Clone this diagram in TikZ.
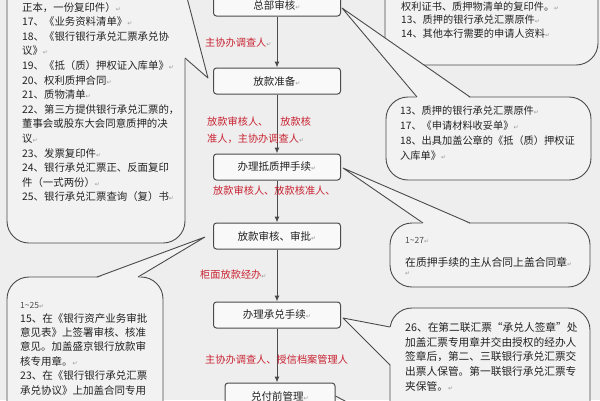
\documentclass[tikz,border=0pt]{standalone}
\usepackage{fontspec}
\setmainfont{Noto Sans CJK SC}
\newfontfamily\dejavu{DejaVu Sans}
\usetikzlibrary{arrows.meta,calc}
\definecolor{bgc}{RGB}{238,238,238}
\definecolor{cfill}{RGB}{242,242,242}
\definecolor{bfill}{RGB}{249,249,249}
\definecolor{linec}{RGB}{75,75,75}
\definecolor{redc}{RGB}{200,35,50}
\definecolor{txtc}{RGB}{35,35,35}
\newcommand\parmk{{\dejavu\fontsize{6}{6}\selectfont\textcolor{gray!80}{↵}}}
\begin{document}
\begin{tikzpicture}[x=1pt,y=-1pt,
  stepbox/.style={draw=linec,line width=1pt,fill=bfill,rounded corners=3pt,minimum width=127pt,minimum height=26pt,inner sep=0pt,font=\fontsize{10.5}{12}\selectfont,text=txtc},
  cbody/.style={draw=linec,line width=0.9pt,fill=cfill,rounded corners=22pt,inner sep=0pt},
  cline/.style={draw=linec,line width=0.9pt,line join=bevel},
  lbl/.style={text=redc,font=\fontsize{10.2}{12}\selectfont,inner sep=0pt,anchor=west},
  ctext/.style={align=left,inner sep=0pt,anchor=north west,text=txtc},
  numtext/.style={inner sep=0pt,anchor=west,text=gray!60!black,font=\fontsize{8.5}{10}\selectfont},
  flow/.style={draw=linec,line width=1pt,-{Latex[length=6pt,width=5pt]}}
]
\useasboundingbox (0,0) rectangle (600,400);
\fill[bgc] (0,0) rectangle (600,400);
\clip (0,0) rectangle (600,400);

% main flow boxes
\node[stepbox,minimum height=22pt] (b1) at (277,5) {总部审核\parmk};
\node[stepbox] (b2) at (277,81) {放款准备\parmk};
\node[stepbox] (b3) at (277,167) {办理抵质押手续\parmk};
\node[stepbox] (b4) at (277,236) {放款审核、审批\parmk};
\node[stepbox] (b5) at (277,315) {办理承兑手续\parmk};
\node[stepbox,minimum width=110pt] (b6) at (280,396) {兑付前管理\parmk};

% callout bodies
\node[cbody,minimum width=178pt,minimum height=303pt] (A) at (96,91.5) {};
\node[cbody,minimum width=156pt,minimum height=183pt] (B) at (85,368.5) {};
\node[cbody,minimum width=213pt,minimum height=125pt] (C) at (491.5,2.5) {};
\node[cbody,minimum width=205pt,minimum height=83pt] (D) at (488.5,138.5) {};
\node[cbody,minimum width=200pt,minimum height=64pt] (E) at (490,255) {};
\node[cbody,minimum width=200pt,minimum height=152pt] (F) at (490,384) {};

% pointer tips
\coordinate (tA) at ($(b2.west)+(-5,-3)$);
\coordinate (tB) at ($(b4.west)+(-8,1)$);
\coordinate (tD) at ($(b1.east)+(1,3)$);
\coordinate (tE) at ($(b3.east)+(2,1)$);
\coordinate (tF) at ($(b5.east)+(2,3)$);
\coordinate (gEnd) at (400,430);

% pointers
\fill[cfill] (184,-10) -- (tA) -- (184,58) -- cycle;
\draw[cline] (185,-10) -- (tA) -- (185,58);
\fill[cfill] (97,278) -- (tB) -- (138,278) -- cycle;
\draw[cline] (97,277) -- (tB) -- (138,277);
\fill[cfill] (417,98) -- (tD) -- (470,98) -- cycle;
\draw[cline] (417,97) -- (tD) -- (470,97);
\fill[cfill] (423,224) -- (tE) -- (470,224) -- cycle;
\draw[cline] (423,223) -- (tE) -- (470,223);
\fill[cfill] (391,327) -- (tF) -- (391,365) -- cycle;
\draw[cline] (390,327) -- (tF) -- (390,365);
\draw[cline] (b6.east) -- (gEnd);

% flow arrows
\draw[flow] (b1.south) -- (b2.north);
\draw[flow] (b2.south) -- (b3.north);
\draw[flow] (b3.south) -- (b4.north);
\draw[flow] (b4.south) -- (b5.north);
\draw[flow] (b5.south) -- (b5.south |- b6.north);

% red labels
\node[lbl] (l1) at (205,43) {主协办调查人\parmk};
\node[lbl] (l2a) at (207,122) {放款审核人、\hspace{12pt}放款核};
\node[lbl] (l2b) at (207,139) {准人，主协办调查人\parmk};
\node[lbl] (l3) at (213,191) {放款审核人、放款核准人、};
\node[lbl] (l4) at (200,275) {柜面放款经办\parmk};
\node[lbl] (l5) at (205,360) {主协办调查人、授信档案管理人};

% callout texts
\node[ctext,font=\fontsize{10.4}{14.6}\selectfont] (At) at (22,2) {%
正本，一份复印件）\parmk\\
17、《业务资料清单》\parmk\\
18、《银行银行承兑汇票承兑协\\
议》\parmk\\
19、《抵（质）押权证入库单》\parmk\\
20、权利质押合同\parmk\\
21、质物清单\parmk\\
22、第三方提供银行承兑汇票的，\\
董事会或股东大会同意质押的决\\
议\parmk\\
23、发票复印件\parmk\\
24、银行承兑汇票正、反面复印\\
件（一式两份）\parmk\\
25、银行承兑汇票查询（复）书\parmk};

\node[numtext] (Bn) at (20,305) {1\textasciitilde25\parmk};
\node[ctext,font=\fontsize{10.5}{14.4}\selectfont] (Bt) at (20,313) {%
15、在《银行资产业务审批\\
意见表》上签署审核、核准\\
意见。加盖盛京银行放款审\\
核专用章。\parmk\\
23、在《银行银行承兑汇票\\
承兑协议》上加盖合同专用};

\node[ctext,font=\fontsize{10.2}{13.5}\selectfont] (Ct) at (401,1.5) {%
权利证书、质押物清单的复印件。\parmk\\
13、质押的银行承兑汇票原件\parmk\\
14、其他本行需要的申请人资料\parmk};

\node[ctext,font=\fontsize{10.2}{15}\selectfont] (Dt) at (400,106) {%
13、质押的银行承兑汇票原件\parmk\\
17、《申请材料收妥单》\parmk\\
18、出具加盖公章的《抵（质）押权证\\
入库单》\parmk};

\node[numtext] (En) at (405,240) {1\textasciitilde27\parmk};
\node[ctext,anchor=west,font=\fontsize{10.8}{13}\selectfont] (Et) at (405,262) {在质押手续的主从合同上盖合同章\parmk};
\node[ctext,anchor=west] (Em) at (405,274) {\parmk};

\node[ctext,font=\fontsize{10.7}{14.7}\selectfont] (Ft) at (405,322) {%
26、在第二联汇票“承兑人签章”处\\
加盖汇票专用章并交由授权的经办人\\
签章后，第二、三联银行承兑汇票交\\
出票人保管。第一联银行承兑汇票专\\
夹保管。\parmk};
\end{tikzpicture}
\end{document}
